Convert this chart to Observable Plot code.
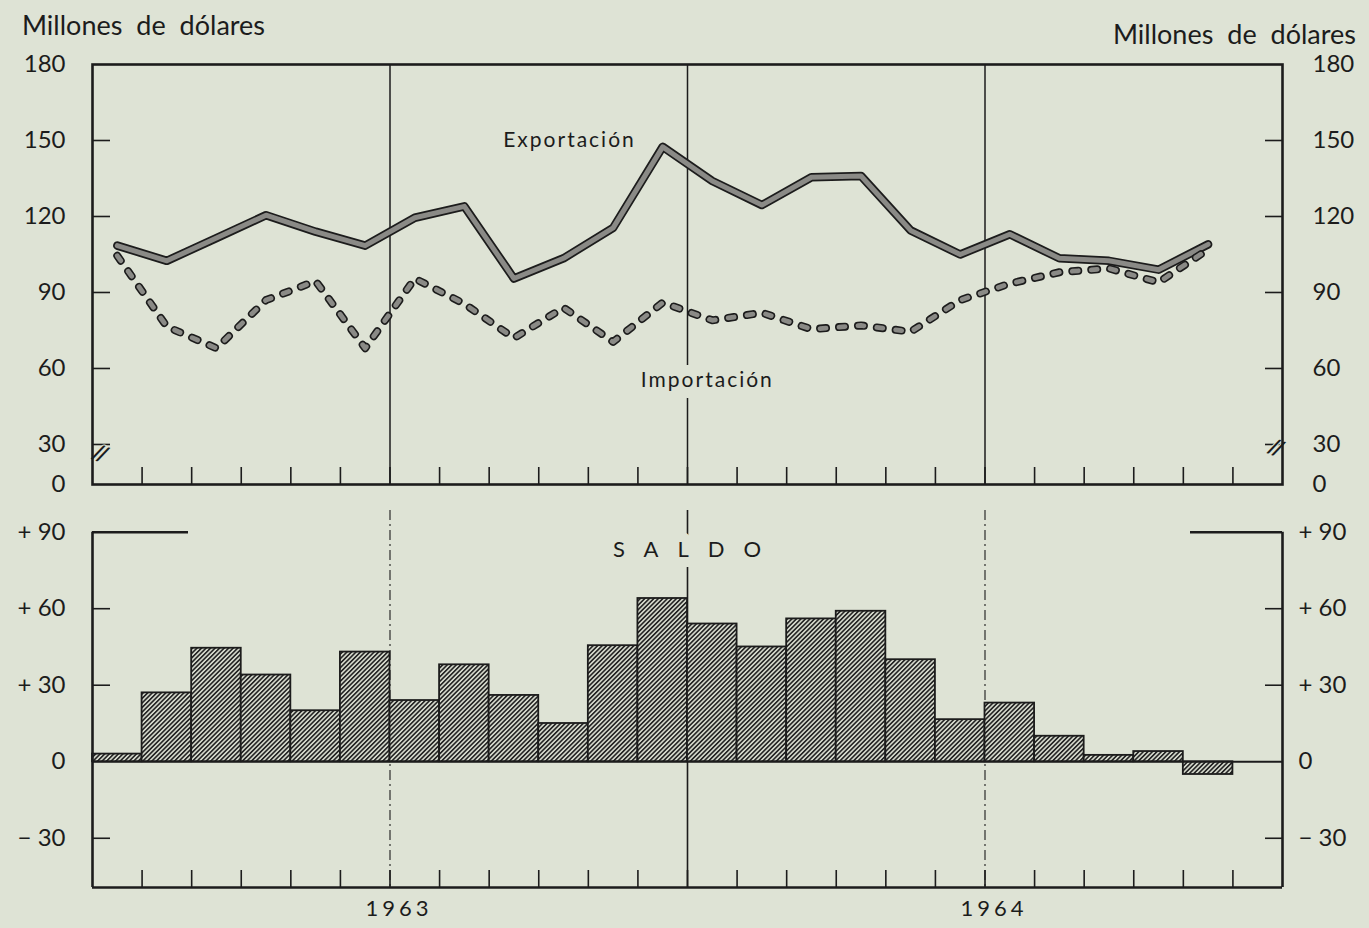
<!DOCTYPE html>
<html>
<head>
<meta charset="utf-8">
<script src="https://cdn.jsdelivr.net/npm/d3@7"></script>
<script src="https://cdn.jsdelivr.net/npm/@observablehq/plot@0.6"></script>
<style>
  html, body { margin: 0; padding: 0; background: #dee3d5; }
  #chart { position: relative; width: 1369px; height: 928px; background: #dee3d5; overflow: hidden;
           font-family: Lato, "Open Sans", sans-serif; color: #1c1c1c; }
  .unit { position: absolute; font-size: 27px; word-spacing: 7px; line-height: 1; white-space: nowrap; }
  .panel { position: absolute; left: 0; }
  .panel svg { overflow: visible; }
</style>
</head>
<body>
<div id="chart">
  <div class="unit" style="left:22px; top:11px;">Millones de dólares</div>
  <div class="unit" style="right:13px; top:20px;">Millones de dólares</div>
  <div id="top" class="panel" style="top:0;"></div>
  <div id="bottom" class="panel" style="top:500px;"></div>
</div>
<script>
// ---------------- data (millones de dólares, mensual) ----------------
const months = ["1963-01","1963-02","1963-03","1963-04","1963-05","1963-06",
                "1963-07","1963-08","1963-09","1963-10","1963-11","1963-12",
                "1964-01","1964-02","1964-03","1964-04","1964-05","1964-06",
                "1964-07","1964-08","1964-09","1964-10","1964-11"];
const exportacion = [108.5, 102.5, 111.5, 120.5, 114, 108.5, 119.5, 124, 95.5, 103.5, 115.5, 147.5,
                     134, 124.5, 135.5, 136, 114.5, 105, 113, 103.5, 102.5, 99, 109];
const importacion = [104.5, 76.5, 68, 87, 94.5, 68, 95.5, 85.5, 72, 84, 70.5, 86,
                     79, 82, 75.5, 77, 74.5, 87, 93.5, 98, 99.5, 94, 107];
const saldo = [3, 27, 44.5, 34, 20, 43, 24, 38, 26, 15, 45.5, 64,
               54, 45, 56, 59, 40, 16.5, 23, 10, 2.5, 4, -5];
const years = ["1963", "1964"];
const topTicks = [30, 60, 90, 120, 150, 180];
const saldoTicks = [90, 60, 30, 0, -30];
const seriesNames = ["Exportación", "Importación"];
const saldoName = "SALDO";

// ---------------- derived tables ----------------
const rows = months.map((m, i) => ({i, month: m, exp: exportacion[i], imp: importacion[i], saldo: saldo[i]}));
const nSlots = months.length + 1;                       // the time axis has one empty slot at the end
const boundaries = d3.range(1, nSlots);                 // month boundaries (inner tick marks)
const midYear = years.map((y, k) => 6 + 12 * k);        // July 1 of each year
const yearBoundary = years.slice(1).map((y, k) => 12 * (k + 1));
const yearOf = new Map(midYear.map((p, k) => [p, years[k]]));

// ---------------- style ----------------
const ink = "#1c1c1c";
const bg = "#dee3d5";
const lineGrey = "#8a8a86";
const W = 1369;
const topBreak = 14.2;                // value at the bottom edge of the broken axis (drawn as "0")
const saldoY = [-49.3, 98.5];
const fmtTop = d => d === topBreak ? "0" : String(d);
const fmtSigned = d => d > 0 ? "+ " + d : d < 0 ? "− " + (-d) : "0";
const xMid = d => d.i + 0.5;

// ---------------- upper panel ----------------
const topPlot = Plot.plot({
  width: W, height: 500,
  marginLeft: 92, marginRight: 87, marginTop: 64, marginBottom: 16,
  x: {domain: [0, nSlots], axis: null},
  y: {domain: [topBreak, d3.max(topTicks)], axis: null},
  style: {background: "transparent", fontFamily: "Lato, 'Open Sans', sans-serif", color: ink},
  marks: [
    Plot.ruleX(midYear.concat(yearBoundary), {stroke: ink, strokeWidth: 1.5}),
    // inward tick marks
    Plot.axisX({anchor: "bottom", ticks: boundaries, tickSize: 17, dy: -17, fill: "none", stroke: ink, strokeWidth: 1.6}),
    Plot.axisY({anchor: "left", ticks: topTicks.slice(0, -1), tickSize: 18, dx: 18, fill: "none", stroke: ink, strokeWidth: 1.6}),
    Plot.axisY({anchor: "right", ticks: topTicks.slice(0, -1), tickSize: 18, dx: -18, fill: "none", stroke: ink, strokeWidth: 1.6}),
    // tick labels
    Plot.axisY({anchor: "left", ticks: [topBreak, ...topTicks], tickFormat: fmtTop, tickSize: 0, tickPadding: 27, fontSize: 24, label: null, fill: ink}),
    Plot.axisY({anchor: "right", ticks: [topBreak, ...topTicks], tickFormat: fmtTop, tickSize: 0, tickPadding: 30, fontSize: 24, label: null, fill: ink}),
    // axis break marks
    Plot.text(["//"], {frameAnchor: "bottom-left", dx: -2, dy: -27, fontSize: 22, fontWeight: "bold", rotate: 22, fill: ink, stroke: bg, strokeWidth: 2}),
    Plot.text(["//"], {frameAnchor: "bottom-right", dx: -2, dy: -27, fontSize: 22, fontWeight: "bold", rotate: 22, fill: ink, stroke: bg, strokeWidth: 2}),
    // Exportación: outlined grey band
    Plot.line(rows, {x: xMid, y: "exp", stroke: ink, strokeWidth: 8.5, strokeLinejoin: "round"}),
    Plot.line(rows, {x: xMid, y: "exp", stroke: lineGrey, strokeWidth: 5, strokeLinejoin: "round"}),
    // Importación: outlined grey dashes
    Plot.line(rows, {x: xMid, y: "imp", stroke: ink, strokeWidth: 8, strokeDasharray: "6,13", strokeLinecap: "round", strokeLinejoin: "round"}),
    Plot.line(rows, {x: xMid, y: "imp", stroke: lineGrey, strokeWidth: 4.8, strokeDasharray: "6,13", strokeLinecap: "round", strokeLinejoin: "round"}),
    // series labels
    Plot.text([seriesNames[0]], {x: 9.6, y: 150, dx: 1, fontSize: 21, fill: ink, className: "spaced"}),
    Plot.text([seriesNames[1]], {x: 12.38, y: 55.4, dx: 1, fontSize: 21, fill: ink, stroke: bg, strokeWidth: 22, className: "spaced"}),
    Plot.frame({stroke: ink, strokeWidth: 2.6})
  ]
});

// ---------------- lower panel (saldo) ----------------
const bottomPlot = Plot.plot({
  width: W, height: 428,
  marginLeft: 92, marginRight: 87, marginTop: 10, marginBottom: 41,
  x: {domain: [0, nSlots], axis: null},
  y: {domain: saldoY, axis: null},
  style: {background: "transparent", fontFamily: "Lato, 'Open Sans', sans-serif", color: ink},
  marks: [
    Plot.ruleX(yearBoundary, {stroke: ink, strokeWidth: 1.6}),
    Plot.ruleX(midYear, {stroke: ink, strokeWidth: 1.1, strokeDasharray: "10,4,2,4"}),
    Plot.rect(rows, {x1: d => d.i, x2: d => d.i + 1, y1: 0, y2: "saldo", fill: "url(#hatch)", stroke: ink, strokeWidth: 1.8}),
    Plot.ruleY([0], {stroke: ink, strokeWidth: 2}),
    // partial top frame at +90 and side frame lines
    Plot.ruleY([d3.max(saldoTicks)], {insetRight: 1094, stroke: ink, strokeWidth: 2.6}),
    Plot.ruleY([d3.max(saldoTicks)], {insetLeft: 1098, stroke: ink, strokeWidth: 2.6}),
    Plot.ruleX([0, nSlots], {y1: saldoY[0], y2: d3.max(saldoTicks), stroke: ink, strokeWidth: 2.6}),
    Plot.ruleY([saldoY[0]], {stroke: ink, strokeWidth: 2.6}),
    // inward tick marks
    Plot.axisX({anchor: "bottom", ticks: boundaries, tickSize: 17, dy: -17, fill: "none", stroke: ink, strokeWidth: 1.6}),
    Plot.axisY({anchor: "left", ticks: [60, 30, -30], tickSize: 18, dx: 18, fill: "none", stroke: ink, strokeWidth: 1.6}),
    Plot.axisY({anchor: "right", ticks: [60, 30, -30], tickSize: 18, dx: -18, fill: "none", stroke: ink, strokeWidth: 1.6}),
    // labels
    Plot.axisY({anchor: "left", ticks: saldoTicks, tickFormat: fmtSigned, tickSize: 0, tickPadding: 27, fontSize: 24, label: null, fill: ink}),
    Plot.axisY({anchor: "right", ticks: saldoTicks, tickFormat: fmtSigned, tickSize: 0, tickPadding: 16, fontSize: 24, label: null, fill: ink}),
    Plot.axisX({anchor: "bottom", ticks: midYear, tickFormat: d => yearOf.get(d), tickSize: 0, tickPadding: 13, dx: 9, fontSize: 22, label: null, fill: ink, className: "years"}),
    Plot.text([saldoName], {x: 12, y: 83.2, dx: 9, fontSize: 22, fill: ink, stroke: bg, strokeWidth: 20, className: "saldo"})
  ]
});

// hatch pattern for the bars
const defs = d3.select(bottomPlot).insert("defs", ":first-child");
const pat = defs.append("pattern").attr("id", "hatch").attr("patternUnits", "userSpaceOnUse")
  .attr("width", 3.2).attr("height", 3.2).attr("patternTransform", "rotate(45)");
pat.append("rect").attr("width", 3.2).attr("height", 3.2).attr("fill", "#d8dccf");
pat.append("line").attr("x1", 0.8).attr("y1", 0).attr("x2", 0.8).attr("y2", 3.2).attr("stroke", "#262626").attr("stroke-width", 1.7);

document.getElementById("top").appendChild(topPlot);
document.getElementById("bottom").appendChild(bottomPlot);

// letter spacing of the hand-lettered labels
d3.selectAll(".spaced text, g.spaced text, text.spaced").style("letter-spacing", "2px");
d3.selectAll(".saldo text, g.saldo text").style("letter-spacing", "19px");
d3.selectAll(".years text, g.years text").style("letter-spacing", "4px");
</script>
</body>
</html>
